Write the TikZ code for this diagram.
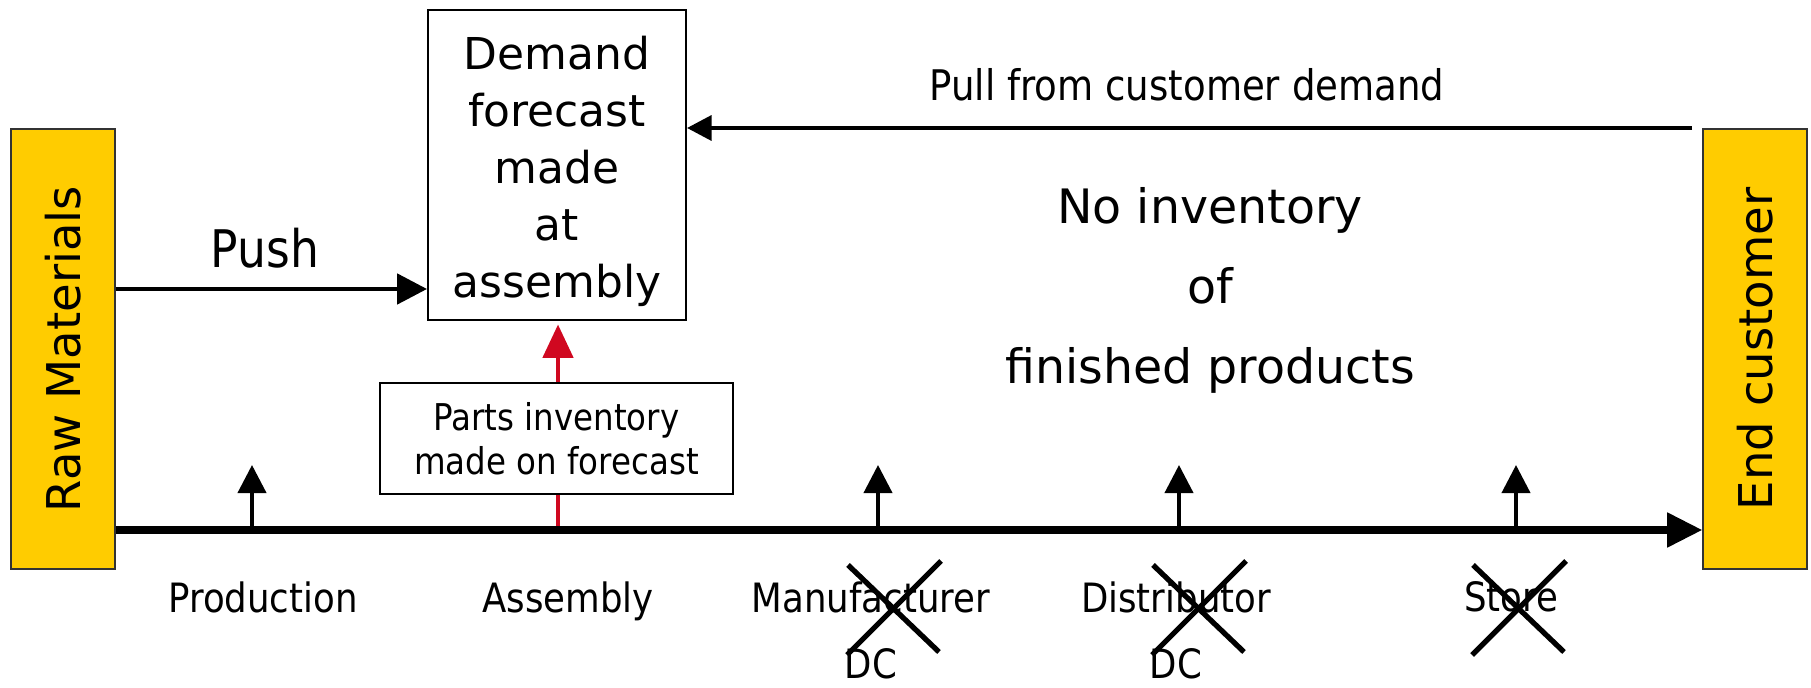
\documentclass[tikz,border=0pt]{standalone}
\usepackage{fontspec}
\setmainfont{DejaVu Sans}
\newfontfamily\narrowsans[FakeStretch=0.88]{DejaVu Sans}
\usetikzlibrary{arrows.meta}
\definecolor{boxyellow}{RGB}{255,204,0}
\definecolor{fcred}{RGB}{208,8,32}
\tikzset{
  endbox/.style={draw=black!80, line width=0.8pt, fill=boxyellow, rotate=90,
    minimum width=8.8cm, minimum height=2.08cm, inner sep=0pt,
    font=\fontsize{26.5}{30}\selectfont},
  flowline/.style={line width=4pt, -{Triangle[length=20pt,width=19pt]}},
  pushline/.style={line width=2.8pt, -{Triangle[length=17pt,width=17pt]}},
  pullline/.style={line width=2.6pt, -{Triangle[length=14pt,width=14pt]}},
  stockarrow/.style={line width=2.3pt, -{Triangle[length=16pt,width=16pt]}},
  stagelabel/.style={anchor=north, inner sep=0pt, align=center,
    font=\narrowsans\fontsize{23}{38}\selectfont},
  crossout/.style={line width=3pt},
}
\begin{document}
\begin{tikzpicture}[x=0.02cm, y=-0.02cm]
    \useasboundingbox (0,0) rectangle (1811,688);
    \node[endbox] (raw) at (63,349) {Raw Materials};
    \node[endbox] (cust) at (1755,349) {End customer};
    \node[draw, line width=1.1pt, minimum width=5.16cm, minimum height=6.2cm, align=center,
      font=\fontsize{25}{32.4}\selectfont] (demand) at (557,165)
      {Demand\rule{0pt}{26pt}\\forecast\\made\\at\\assembly};
    % forecast feeds the assembly box from below
    \coordinate (asm) at (558,530);
    \draw[line width=2.8pt][fcred][-{Triangle[length=19pt,width=17pt]}, shorten >=2pt] (asm) -- (asm |- demand.south);
    \node[draw, fill=white, line width=0.9pt, minimum width=7.06cm, minimum height=2.22cm, align=center,
      font=\narrowsans\fontsize{21}{25}\selectfont] (parts) at (556.5,438.5) {Parts inventory\\made on forecast};
    \draw[flowline] (raw.south |- asm) -- (cust.north |- asm);
    \coordinate (pushrow) at (0,289);
    \draw[pushline] (raw.south |- pushrow) -- (demand.west |- pushrow);
    \node[font=\narrowsans\fontsize{29.5}{34}\selectfont] (push) at (265,248) {Push};
    \coordinate (pullstart) at (1692,128);
    \draw[pullline] (pullstart) -- (demand.east |- pullstart);
    \node[font=\narrowsans\fontsize{24}{28}\selectfont] (pull) at (1187,85) {Pull from customer demand};
    \node[align=center, font=\fontsize{27}{45.5}\selectfont] (noinv) at (1210,290) {No inventory\\of\\finished products};
    \foreach \n/\x in {prod/252, mfg/878, dist/1179, store/1516}{
      \coordinate (\n) at (\x,530);
      \coordinate (\n top) at (\x,465);
      \draw[stockarrow] (\n) -- (\n top);
    }
    \node[stagelabel] (prodlabel) at (263,581) {Production};
    \node[stagelabel] (asmlabel) at (568,581) {Assembly};
    \node[stagelabel] (mfglabel) at (871,581) {Manufacturer\\DC};
    \node[stagelabel] (distlabel) at (1176,581) {Distributor\\DC};
    \node[stagelabel] (storelabel) at (1511,581) {Store};
    % stages that hold no finished stock
    \foreach \cx in {894,1199,1519}{
      \draw[crossout] (\cx-46,565) -- (\cx+45,652);
      \draw[crossout] (\cx+47,561) -- (\cx-47,655);
    }
\end{tikzpicture}
\end{document}
